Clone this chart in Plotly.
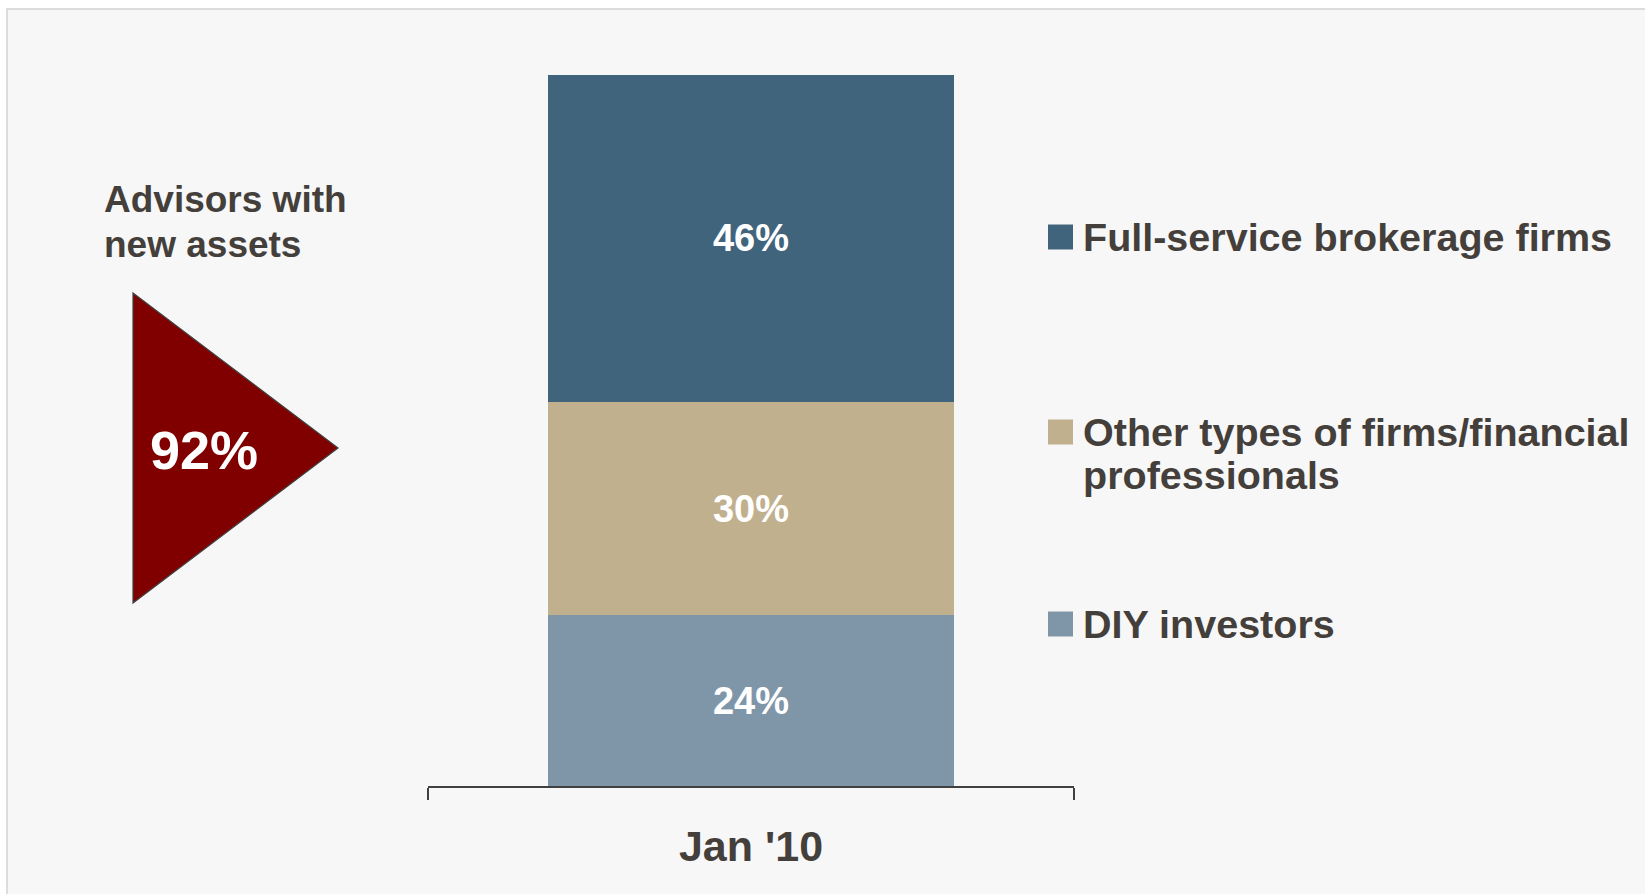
import plotly.graph_objects as go

# ---- data ----
periods = ["Jan '10"]
segment_names = ["DIY investors", "Other types of firms/financial professionals", "Full-service brokerage firms"]
segment_values = [24, 30, 46]          # % of new assets, stacked bottom -> top
segment_colors = ["#7F96A9", "#C1B08E", "#41647D"]
legend_lines = {
    "Full-service brokerage firms": ["Full-service brokerage firms"],
    "Other types of firms/financial professionals": ["Other types of firms/financial", "professionals"],
    "DIY investors": ["DIY investors"],
}
callout_title = ["Advisors with", "new assets"]
advisors_with_new_assets = 92         # %

W, H = 1645, 894
FONT = "Liberation Sans, Arial, Helvetica, sans-serif"
TEXT = "#443F3B"


def px(x):
    return x / W


def py(y):
    return 1 - y / H


fig = go.Figure()
for name, val, col in zip(segment_names, segment_values, segment_colors):
    fig.add_trace(go.Bar(
        x=periods, y=[val], name=name, marker=dict(color=col, line=dict(width=0)),
        width=0.627, text=[f"{val}%"], textposition="inside", insidetextanchor="middle",
        textangle=0,
        textfont=dict(family=FONT, size=38, color="white", weight="bold"),
        hoverinfo="skip", showlegend=False,
    ))

shapes = [
    # framed panel behind the chart
    dict(type="rect", xref="paper", yref="paper", x0=px(7), x1=1.02, y0=-0.02, y1=py(9),
         fillcolor="#F7F7F7", line=dict(color="#DCDCDC", width=2), layer="below"),
    # callout triangle
    dict(type="path", xref="paper", yref="paper",
         path=f"M {px(133)} {py(293)} L {px(338)} {py(448)} L {px(133)} {py(603)} Z",
         fillcolor="#800000", line=dict(color="#404040", width=1.2), layer="above"),
]

annotations = [
    dict(xref="paper", yref="paper", x=px(204), y=py(450), text=f"{advisors_with_new_assets}%",
         showarrow=False, xanchor="center", yanchor="middle",
         font=dict(family=FONT, size=54, color="white", weight="bold")),
]
for i, line in enumerate(callout_title):
    annotations.append(dict(xref="paper", yref="paper", x=px(102), y=py(199 + 45 * i), text=line,
                            showarrow=False, xanchor="left", yanchor="middle",
                            font=dict(family=FONT, size=37, color=TEXT, weight="bold")))

# legend drawn as squares + text, top to bottom
legend_y = {"Full-service brokerage firms": 237,
            "Other types of firms/financial professionals": 432,
            "DIY investors": 624}
for name, col in zip(segment_names, segment_colors):
    yc = legend_y[name]
    shapes.append(dict(type="rect", xref="paper", yref="paper",
                       x0=px(1048), x1=px(1073), y0=py(yc + 12.5), y1=py(yc - 12.5),
                       fillcolor=col, line=dict(width=0)))
    for j, line in enumerate(legend_lines[name]):
        annotations.append(dict(xref="paper", yref="paper", x=px(1081), y=py(yc + 43 * j), text=line,
                                showarrow=False, xanchor="left", yanchor="middle",
                                font=dict(family=FONT, size=39.5, color=TEXT, weight="bold")))

fig.update_layout(
    width=W, height=H, margin=dict(l=0, r=0, t=0, b=0),
    paper_bgcolor="white", plot_bgcolor="rgba(0,0,0,0)",
    barmode="stack", showlegend=False,
    uniformtext=dict(mode="show", minsize=10),
    shapes=shapes, annotations=annotations,
    xaxis=dict(domain=[px(428), px(1074)], type="category", range=[-0.5, 0.5],
               showline=True, linecolor="#404040", linewidth=2,
               ticks="outside", tickson="boundaries", ticklen=12, tickwidth=2, tickcolor="#404040",
               ticklabelstandoff=21,
               tickfont=dict(family=FONT, size=43, color=TEXT, weight="bold"),
               showgrid=False, zeroline=False, fixedrange=True),
    yaxis=dict(domain=[py(786), py(74.5)], range=[0, 100], visible=False, fixedrange=True),
)

fig.write_html("out.html", config={"displayModeBar": False})
